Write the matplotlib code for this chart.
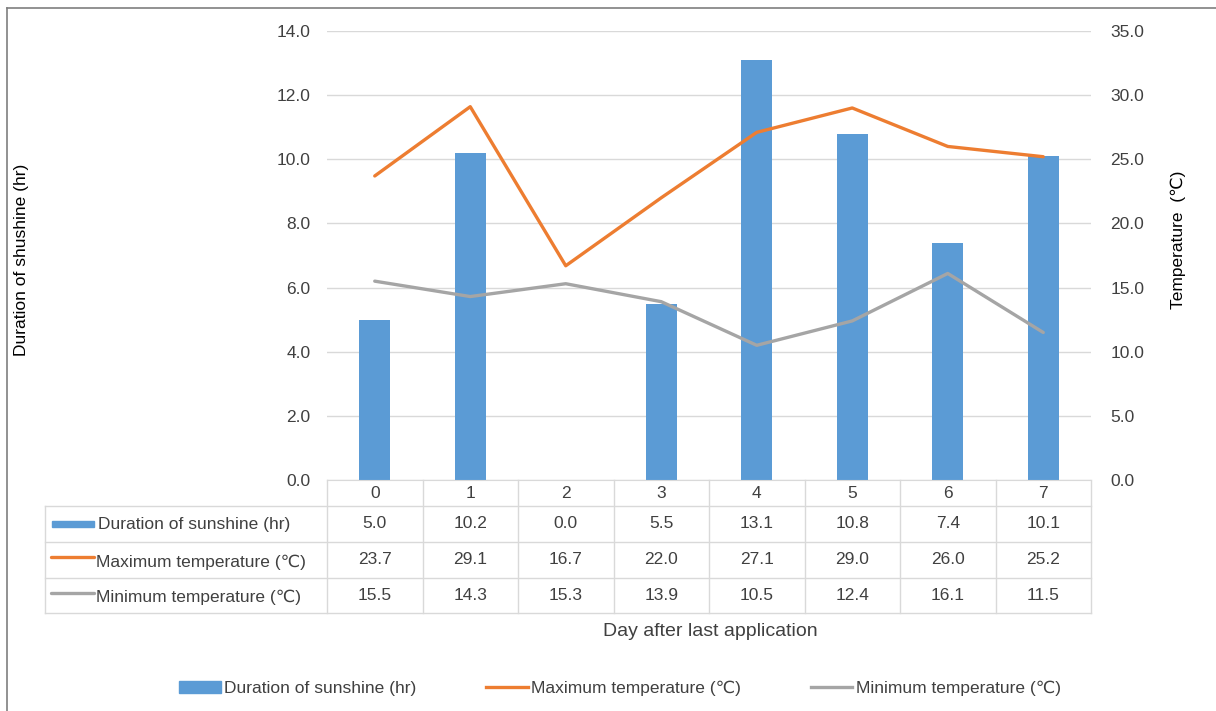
import matplotlib.pyplot as plt
import matplotlib.transforms as mtransforms
from matplotlib.lines import Line2D
from matplotlib.patches import Patch

plt.rcParams["font.family"] = ["Liberation Sans", "DejaVu Sans"]

days = ["0", "1", "2", "3", "4", "5", "6", "7"]
sunshine = [5.0, 10.2, 0.0, 5.5, 13.1, 10.8, 7.4, 10.1]
max_temp = [23.7, 29.1, 16.7, 22.0, 27.1, 29.0, 26.0, 25.2]
min_temp = [15.5, 14.3, 15.3, 13.9, 10.5, 12.4, 16.1, 11.5]

series_names = ["Duration of sunshine (hr)", "Maximum temperature (\u2103)",
                "Minimum temperature (\u2103)"]
colors = ["#5B9BD5", "#ED7D31", "#A5A5A5"]
grid_c = "#D9D9D9"
text_c = "#404040"
FS = 12.5

W, H = 1216, 711
fig = plt.figure(figsize=(W / 100, H / 100), dpi=100)


def fx(px):
    return px / W


def fy(py):
    return 1 - py / H


# plot area in pixels
left, right, top, bottom = 327, 1091, 31, 480
ax = fig.add_axes([fx(left), fy(bottom), fx(right - left), (bottom - top) / H])
ax2 = ax.twinx()

x = list(range(len(days)))
ax.bar(x, sunshine, width=0.32, color=colors[0], zorder=2)
ax.set_xlim(-0.5, len(days) - 0.5)
ax.set_ylim(0, 14)
ax.set_yticks([i * 2.0 for i in range(8)])
ax.set_yticklabels([f"{i * 2.0:.1f}" for i in range(8)])
ax.grid(axis="y", color=grid_c, lw=1, zorder=0)
ax.set_axisbelow(True)

ax2.plot(x, max_temp, color=colors[1], lw=2.4, solid_capstyle="round", zorder=3)
ax2.plot(x, min_temp, color=colors[2], lw=2.4, solid_capstyle="round", zorder=3)
ax2.set_ylim(0, 35)
ax2.set_yticks([i * 5.0 for i in range(8)])
ax2.set_yticklabels([f"{i * 5.0:.1f}" for i in range(8)])

for a in (ax, ax2):
    for s in a.spines.values():
        s.set_visible(False)
    a.tick_params(length=0, labelsize=FS, colors=text_c)
ax.tick_params(axis="y", pad=12)
ax2.tick_params(axis="y", pad=14)
ax.set_xticks([])
ax.spines["bottom"].set_visible(True)
ax.spines["bottom"].set_color(grid_c)

fig.text(fx(22), fy(260), "Duration of shushine (hr)", rotation=90,
         ha="center", va="center", fontsize=FS, color="black")
fig.text(fx(1178), fy(240), "Temperature  (\u2103)", rotation=90,
         ha="center", va="center", fontsize=FS, color="black")

# data table below the plot area
tr = mtransforms.blended_transform_factory(ax.transData, fig.transFigure)
rows_px = [480, 506, 542, 578, 613]
lab_left = 45
lw_t = 1.0
for ry in rows_px[1:]:
    fig.add_artist(Line2D([fx(lab_left), fx(right)], [fy(ry), fy(ry)],
                          color=grid_c, lw=lw_t))
for i in range(len(days) + 1):
    fig.add_artist(Line2D([i - 0.5, i - 0.5], [fy(rows_px[0]), fy(rows_px[-1])],
                          color=grid_c, lw=lw_t, transform=tr))
fig.add_artist(Line2D([fx(lab_left), fx(lab_left)], [fy(rows_px[1]), fy(rows_px[-1])],
                      color=grid_c, lw=lw_t))

for i, d in enumerate(days):
    yc = (rows_px[0] + rows_px[1]) / 2
    fig.text(i, fy(yc), d, transform=tr, ha="center", va="center",
             fontsize=FS, color=text_c)

table_vals = [sunshine, max_temp, min_temp]
for r, vals in enumerate(table_vals):
    yc = (rows_px[r + 1] + rows_px[r + 2]) / 2
    for i, v in enumerate(vals):
        fig.text(i, fy(yc), f"{v:.1f}", transform=tr, ha="center", va="center",
                 fontsize=FS, color=text_c)
    if r == 0:
        fig.add_artist(plt.Rectangle((fx(52), fy(yc + 3)), fx(42), 6 / H,
                                     color=colors[0]))
        fig.text(fx(98), fy(yc), series_names[r], ha="left", va="center",
                 fontsize=FS, color=text_c)
    else:
        fig.add_artist(Line2D([fx(51), fx(94)], [fy(yc - 3), fy(yc - 3)],
                              color=colors[r], lw=2.4, solid_capstyle="round"))
        fig.text(fx(96), fy(yc + 2), series_names[r], ha="left", va="center",
                 fontsize=FS, color=text_c)

fig.text(fx(710), fy(632), "Day after last application", ha="center",
         va="center", fontsize=14, color=text_c)

handles = [Patch(color=colors[0]),
           Line2D([], [], color=colors[1], lw=2.4),
           Line2D([], [], color=colors[2], lw=2.4)]
fig.legend(handles, series_names, loc="center", bbox_to_anchor=(fx(620), fy(688)),
           ncol=3, frameon=False, fontsize=FS, handlelength=2.4,
           columnspacing=4.0, handletextpad=0.2, labelcolor=text_c)

# outer chart frame (partially cropped in the original)
fig.add_artist(Line2D([fx(7), fx(7)], [fy(8), 0], color="#7F7F7F", lw=1.2))
fig.add_artist(Line2D([fx(7), 1], [fy(8), fy(8)], color="#7F7F7F", lw=1.2))

fig.savefig("out.png", dpi=100)
